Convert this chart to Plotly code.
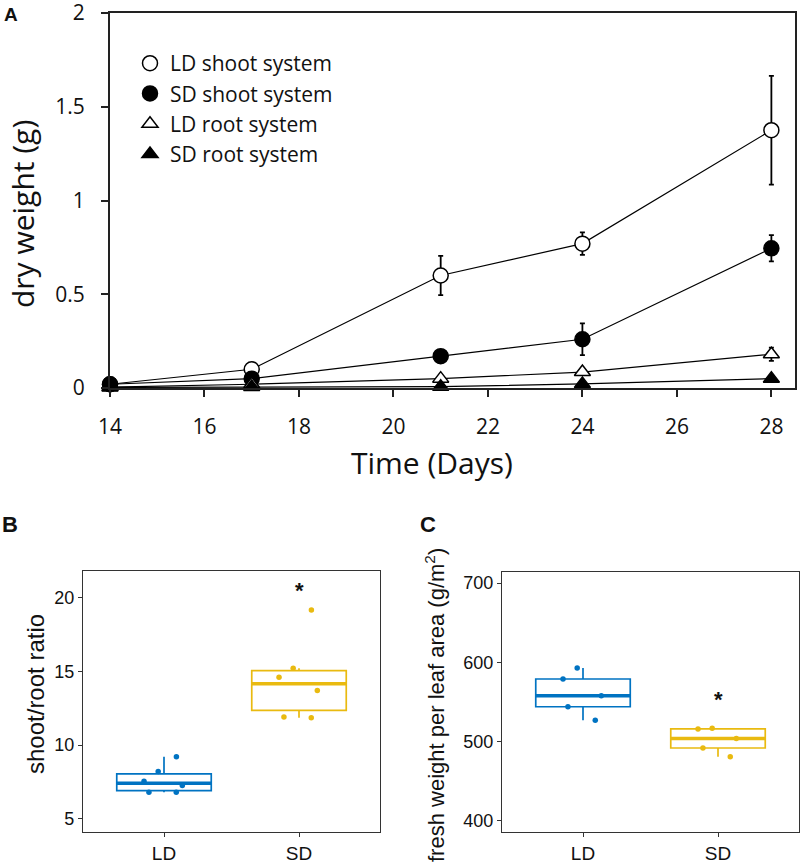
import numpy as np
import plotly.graph_objects as go

# ---------------- Panel A data ----------------
days = [14, 17, 21, 24, 28]
ld_shoot = [0.02, 0.10, 0.60, 0.77, 1.375]
ld_shoot_err = [0.0, 0.0, 0.105, 0.06, 0.29]
sd_shoot = [0.02, 0.05, 0.17, 0.26, 0.745]
sd_shoot_err = [0.0, 0.0, 0.025, 0.085, 0.07]
ld_root = [0.005, 0.02, 0.05, 0.085, 0.18]
ld_root_err = [0.0, 0.0, 0.0, 0.0, 0.035]
sd_root = [0.003, 0.005, 0.007, 0.022, 0.05]
sd_root_err = [0.0, 0.0, 0.0, 0.0, 0.0]
dry_ticks = [0, 0.5, 1, 1.5, 2]
dry_tick_labels = ["0", "0.5", "1", "1.5", "2"]
day_ticks = [14, 16, 18, 20, 22, 24, 26, 28]

# ---------------- Panel B data ----------------
groups = ["LD", "SD"]
ratio_ld = [9.2, 8.2, 7.55, 7.25, 6.8, 6.8]
ratio_sd = [19.15, 15.2, 14.6, 13.7, 11.9, 11.85]

# ---------------- Panel C data ----------------
fw_ld = [593, 579, 558, 544, 527]
fw_sd = [517, 516, 504, 492, 481]

BLUE = "#0073C2"
GOLD = "#E9BA10"
A_FONT = "Open Sans"
BC_FONT = "Liberation Sans"

fig = go.Figure()

series = [
    ("LD shoot system", ld_shoot, ld_shoot_err, "circle", False),
    ("SD shoot system", sd_shoot, sd_shoot_err, "circle", True),
    ("LD root system", ld_root, ld_root_err, "triangle-up", False),
    ("SD root system", sd_root, sd_root_err, "triangle-up", True),
]
for name, vals, errs, sym, filled in series:
    mk = dict(symbol=sym, size=15 if sym == "circle" else 14,
              color="black" if filled else "white",
              line=dict(color="black", width=1.5))
    fig.add_trace(go.Scatter(
        x=days, y=vals, mode="lines+markers", showlegend=False,
        line=dict(color="black", width=1.2), marker=mk,
        error_y=dict(type="data", array=errs, visible=True, color="black",
                     thickness=1.8, width=2.5),
        xaxis="x", yaxis="y", cliponaxis=False,
    ))
    # legend entry (marker only)
    fig.add_trace(go.Scatter(
        x=[None], y=[None], mode="markers", name=name, showlegend=True,
        marker=mk, xaxis="x", yaxis="y",
    ))

# invisible helper trace so the label axis (y4) is drawn
fig.add_trace(go.Scatter(x=[None], y=[None], xaxis="x", yaxis="y4",
                         showlegend=False, hoverinfo="skip"))

# ---------------- Panel B & C boxes ----------------
def add_box(vals, pos, color, xa, ya):
    v = np.asarray(vals, dtype=float)
    q1, med, q3 = np.percentile(v, [25, 50, 75])
    iqr = q3 - q1
    lo = v[v >= q1 - 1.5 * iqr].min()
    hi = v[v <= q3 + 1.5 * iqr].max()
    # box with statistics (ggplot-style quantiles)
    fig.add_trace(go.Box(
        x=[pos], q1=[q1], median=[med], q3=[q3], lowerfence=[lo], upperfence=[hi],
        width=0.7, whiskerwidth=0, fillcolor="rgba(0,0,0,0)", boxpoints=False,
        line=dict(color=color, width=1.7), showlegend=False,
        xaxis=xa, yaxis=ya, hoverinfo="skip",
    ))
    # jittered sample points
    fig.add_trace(go.Box(
        y=vals, x=[pos] * len(vals), width=0.7, boxpoints="all", jitter=0.5,
        pointpos=0, whiskerwidth=0, fillcolor="rgba(0,0,0,0)",
        line=dict(color="rgba(0,0,0,0)", width=0),
        marker=dict(color=color, size=5.5),
        showlegend=False, xaxis=xa, yaxis=ya, hoverinfo="y",
    ))
    # thick median bar
    fig.add_trace(go.Scatter(
        x=[pos - 0.35, pos + 0.35], y=[med, med], mode="lines",
        line=dict(color=color, width=3.5), showlegend=False,
        xaxis=xa, yaxis=ya, hoverinfo="skip",
    ))

add_box(ratio_ld, 0, BLUE, "x2", "y2")
add_box(ratio_sd, 1, GOLD, "x2", "y2")
add_box(fw_ld, 0, BLUE, "x3", "y3")
add_box(fw_sd, 1, GOLD, "x3", "y3")

W, H = 800, 863
def px(x):
    return x / W
def py(y):
    return 1 - y / H

axA = dict(showgrid=False, zeroline=False, showline=True, mirror=True,
           linecolor="#222", linewidth=2, ticks="outside", ticklen=7,
           tickwidth=1.5, tickcolor="#222", automargin=False,
           ticklabeloverflow="allow",
           tickfont=dict(family=A_FONT, size=21, color="#111"))
axBC = dict(showgrid=False, zeroline=False, showline=True, mirror=True,
            linecolor="#333", linewidth=1.3, ticks="outside", ticklen=4,
            tickwidth=1.2, tickcolor="#333", automargin=False,
            ticklabeloverflow="allow",
            tickfont=dict(family=BC_FONT, size=18, color="#111"))

fig.update_layout(
    width=W, height=H, margin=dict(l=0, r=0, t=0, b=0, autoexpand=False),
    paper_bgcolor="white", plot_bgcolor="white",
    showlegend=True, boxmode="overlay",
    legend=dict(x=px(130), y=py(43), xanchor="left", yanchor="top",
                bgcolor="rgba(0,0,0,0)", font=dict(family=A_FONT, size=21, color="#111"),
                itemwidth=30, tracegroupgap=0),
    xaxis=dict(axA, domain=[px(110), px(795)], range=[14, 28.5],
               tickvals=day_ticks, anchor="y", ticklabelstandoff=12),
    yaxis=dict(axA, domain=[py(388), py(13)], range=[0, 2],
               tickvals=dry_ticks, showticklabels=False, anchor="x"),
    # label-only axis sharing the dry-weight scale (pushes labels away from the axis)
    yaxis4=dict(overlaying="y", anchor="x", side="left", range=[0, 2],
                tickvals=dry_ticks, ticktext=dry_tick_labels,
                showgrid=False, zeroline=False, showline=False,
                ticks="outside", ticklen=20, tickcolor="rgba(0,0,0,0)",
                automargin=False, ticklabeloverflow="allow",
                tickfont=dict(family=A_FONT, size=21, color="#111")),
    xaxis2=dict(axBC, domain=[px(83), px(380)], range=[-0.6, 1.6],
                tickvals=[0, 1], ticktext=groups, anchor="y2",
                tickfont=dict(family=BC_FONT, size=19, color="#111")),
    yaxis2=dict(axBC, domain=[py(832), py(571)], range=[4.1, 21.8],
                tickvals=[5, 10, 15, 20], anchor="x2"),
    xaxis3=dict(axBC, domain=[px(502), px(799)], range=[-0.6, 1.6],
                tickvals=[0, 1], ticktext=groups, anchor="y3",
                tickfont=dict(family=BC_FONT, size=19, color="#111")),
    yaxis3=dict(axBC, domain=[py(832), py(572)], range=[386, 714],
                tickvals=[400, 500, 600, 700], anchor="x3"),
)

annots = [
    dict(text="<b>A</b>", x=px(2), y=py(2), xanchor="left", yanchor="top",
         font=dict(family=BC_FONT, size=19, color="#111")),
    dict(text="<b>B</b>", x=px(0), y=py(510), xanchor="left", yanchor="top",
         font=dict(family=BC_FONT, size=22, color="#111")),
    dict(text="<b>C</b>", x=px(418), y=py(510), xanchor="left", yanchor="top",
         font=dict(family=BC_FONT, size=22, color="#111")),
    # axis titles
    dict(text="Time (Days)", x=px(432), y=py(462), xanchor="center", yanchor="middle",
         font=dict(family=A_FONT, size=30, color="#111")),
    dict(text="dry weight (g)", x=px(22), y=py(214), xanchor="center", yanchor="middle",
         textangle=-90, font=dict(family=A_FONT, size=30, color="#111")),
    dict(text="shoot/root ratio", x=px(35), y=py(694), xanchor="center", yanchor="middle",
         textangle=-90, font=dict(family=BC_FONT, size=24, color="#111")),
    dict(text="fresh weight per leaf area (g/m<sup>2</sup>)", x=px(435), y=py(705),
         xanchor="center", yanchor="middle", textangle=-90,
         font=dict(family=BC_FONT, size=22, color="#111")),
]
for a in annots:
    a.update(xref="paper", yref="paper", showarrow=False)
fig.update_layout(annotations=annots)

# significance asterisks
fig.add_annotation(text="<b>*</b>", x=1, y=20.5, xref="x2", yref="y2",
                   showarrow=False, font=dict(family=BC_FONT, size=22, color="#111"))
fig.add_annotation(text="<b>*</b>", x=1, y=553, xref="x3", yref="y3",
                   showarrow=False, font=dict(family=BC_FONT, size=22, color="#111"))

fig.write_html(
    "out.html",
    config={"displayModeBar": False},
    post_script="document.body.style.margin='0';document.body.style.overflow='hidden';",
)
